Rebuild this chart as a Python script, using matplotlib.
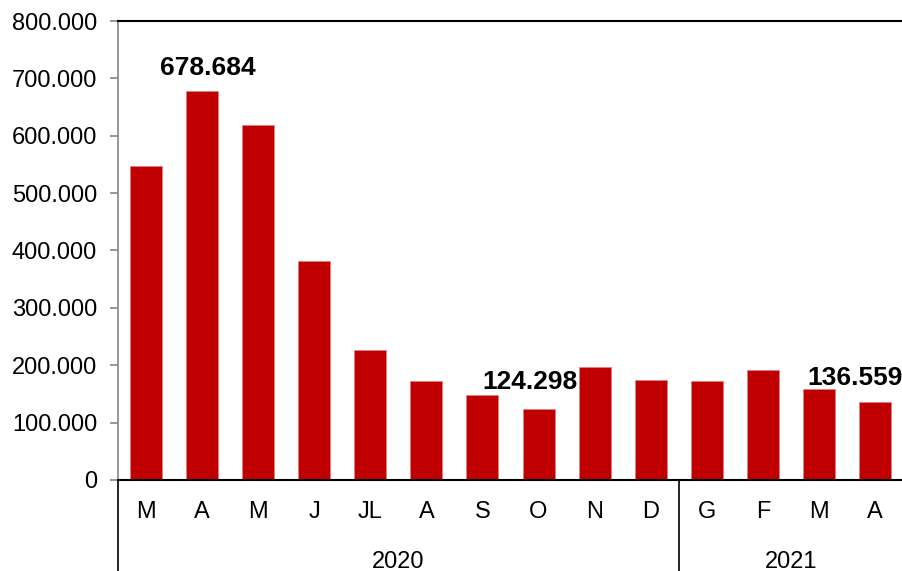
import numpy as np
import matplotlib.pyplot as plt
import matplotlib.transforms as mtransforms

plt.rcParams['font.family'] = ['Liberation Sans', 'DejaVu Sans']

mesi = ['M', 'A', 'M', 'J', 'JL', 'A', 'S', 'O', 'N', 'D', 'G', 'F', 'M', 'A']
valori = [548000, 678684, 618000, 381000, 226000, 172000, 148000, 124298,
          197000, 174000, 172000, 191000, 158000, 136559]
anni = ['2020', '2021']
mesi_per_anno = [10, 4]
# indici delle barre con etichetta e spostamento del testo (punti)
etichette = {1: (4, 16), 7: (-6, 19), 13: (-14, 17)}

fig = plt.figure(figsize=(9.03, 5.71), dpi=100)
ax = fig.add_axes([118/903, 1 - 480/571, 1 - 118/903, (480 - 21)/571])

x = np.arange(len(mesi))
ax.bar(x, valori, width=0.57, color='#C00000', edgecolor='#E08080', linewidth=0.6, zorder=2)

ax.set_xlim(-0.5, len(mesi) - 0.5)
ax.set_ylim(0, 800000)
yt = np.arange(0, 800001, 100000)
ax.set_yticks(yt)
ax.set_yticklabels(['{:,.0f}'.format(v).replace(',', '.') for v in yt], fontsize=17)
ax.tick_params(axis='y', direction='out', length=6, width=1.2, color='#868686', pad=9)
ax.set_xticks([])

ax.spines['right'].set_visible(False)
ax.spines['top'].set_color('black')
ax.spines['top'].set_linewidth(1.5)
ax.spines['left'].set_color('#868686')
ax.spines['left'].set_linewidth(1.2)
ax.spines['bottom'].set_color('black')
ax.spines['bottom'].set_linewidth(1.5)

for i, (dx, dy) in etichette.items():
    v = valori[i]
    ax.annotate('{:,.0f}'.format(v).replace(',', '.'), xy=(i, v), xytext=(dx, dy),
                textcoords='offset points', ha='center', va='center',
                fontsize=19, fontweight='bold')

# etichette categorie a due livelli
trans = mtransforms.blended_transform_factory(ax.transData, ax.transAxes)
for i, m in enumerate(mesi):
    ax.text(i, -0.07, m, transform=trans, ha='center', va='center', fontsize=17)

inizio = -0.5
for anno, n in zip(anni, mesi_per_anno):
    ax.plot([inizio, inizio], [0, -0.25], transform=trans, color='black',
            lw=1.2, clip_on=False)
    ax.text(inizio + n / 2, -0.178, anno, transform=trans, ha='center', va='center',
            fontsize=17)
    inizio += n

fig.savefig('out.png', dpi=100)
